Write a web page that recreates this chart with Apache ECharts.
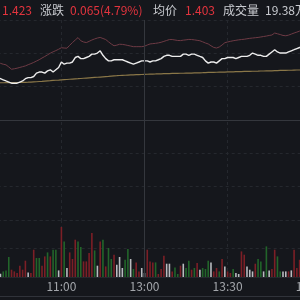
<!DOCTYPE html>
<html>
<head>
<meta charset="utf-8">
<style>
  html, body { margin: 0; padding: 0; background: #15171c; }
  #chart { width: 300px; height: 300px; }
</style>
<script src="https://cdn.jsdelivr.net/npm/echarts@6/dist/echarts.min.js"></script>
</head>
<body>
<div id="chart"></div>
<script>
  // 行情头部数据
  var lastPrice = '1.423';
  var change = '0.065(4.79%)';
  var avgPriceText = '1.403';
  var volumeText = '19.38万';
  var prevClose = 1.358;

  // 时间轴：10:37-11:30, 13:01-14:00
  var times = [];
  function pushRange(h1, m1, h2, m2) {
    var t = h1 * 60 + m1;
    for (; t <= h2 * 60 + m2; t++) {
      var h = Math.floor(t / 60), m = t % 60;
      times.push(h + ':' + (m < 10 ? '0' + m : m));
    }
  }
  pushRange(10, 37, 11, 30);
  pushRange(13, 1, 14, 0);

  var labelTimes = ['11:00', '11:30', '13:30', '14:00'];
  var dashTimes = ['11:00', '13:30', '14:00'];

  // 价格
  var price = [
    1.396, 1.395, 1.394, 1.393, 1.392, 1.391, 1.391, 1.391, 1.392, 1.393,
    1.395, 1.396, 1.396, 1.397, 1.400, 1.401, 1.401, 1.400, 1.402, 1.403,
    1.401, 1.403, 1.405, 1.410, 1.408, 1.409, 1.409, 1.410, 1.414, 1.415,
    1.413, 1.413, 1.414, 1.415, 1.417, 1.417, 1.418, 1.420, 1.416, 1.413,
    1.411, 1.411, 1.412, 1.412, 1.412, 1.412, 1.411, 1.410, 1.409, 1.408,
    1.409, 1.410, 1.411, 1.411, 1.411, 1.410, 1.411, 1.411, 1.412, 1.413,
    1.415, 1.416, 1.416, 1.415, 1.415, 1.415, 1.415, 1.417, 1.417, 1.416,
    1.417, 1.417, 1.416, 1.415, 1.414, 1.411, 1.409, 1.410, 1.410, 1.409,
    1.411, 1.413, 1.413, 1.414, 1.414, 1.414, 1.413, 1.414, 1.415, 1.415,
    1.415, 1.416, 1.418, 1.417, 1.416, 1.416, 1.415, 1.415, 1.417, 1.419,
    1.421, 1.419, 1.418, 1.418, 1.418, 1.419, 1.420, 1.421, 1.422, 1.423,
    1.424
  ];

  // 均价
  var avgPrice = [
    1.3914, 1.3914, 1.3914, 1.3915, 1.3915, 1.3915, 1.3915, 1.3916, 1.3916,
    1.3917, 1.3918, 1.3919, 1.3920, 1.3922, 1.3923, 1.3925,
    1.3927, 1.3929, 1.3931, 1.3933, 1.3935, 1.3936, 1.3938,
    1.3940, 1.3942, 1.3943, 1.3945, 1.3947, 1.3949, 1.3950, 1.3952,
    1.3954, 1.3956, 1.3958, 1.3960, 1.3962, 1.3963, 1.3965,
    1.3967, 1.3969, 1.3971, 1.3973, 1.3975, 1.3977, 1.3979,
    1.3980, 1.3981, 1.3983, 1.3984, 1.3985, 1.3986, 1.3987, 1.3988, 1.3989, 1.3990, 1.3992,
    1.3992, 1.3993, 1.3994, 1.3994, 1.3995, 1.3996, 1.3996, 1.3997, 1.3998, 1.3998, 1.3999, 1.3999, 1.4000, 1.4000, 1.4001,
    1.4002, 1.4003, 1.4003, 1.4004, 1.4005, 1.4006, 1.4006, 1.4007, 1.4008, 1.4009, 1.4009, 1.4010,
    1.4011, 1.4011, 1.4012, 1.4013, 1.4013, 1.4014, 1.4015, 1.4015, 1.4016, 1.4017, 1.4017, 1.4018, 1.4019,
    1.4019, 1.4020, 1.4021, 1.4021, 1.4022, 1.4023, 1.4024, 1.4024, 1.4025, 1.4026, 1.4026, 1.4027, 1.4028, 1.4028, 1.4029
  ];

  // 参考指数涨跌幅(%)
  var indexPct = [
    3.78, 3.74, 3.68, 3.64, 3.50, 3.35, 3.38, 3.42, 3.47, 3.52,
    3.57, 3.65, 3.72, 3.80, 3.89, 3.98, 4.09, 4.19, 4.30, 4.41,
    4.50, 4.58, 4.67, 4.77, 4.75, 4.74, 4.93, 5.11, 5.28, 5.44,
    5.23, 5.15, 5.11, 5.19, 5.28, 5.35, 5.41, 5.45, 5.38, 5.31,
    5.16, 5.02, 4.90, 4.94, 5.00, 4.99, 4.96, 4.92, 4.88, 4.84,
    4.84, 4.84, 4.84, 4.87, 4.95, 5.02, 5.04, 5.06, 5.09, 5.13,
    5.19, 5.25, 5.31, 5.31, 5.28, 5.25, 5.24, 5.27, 5.29, 5.32,
    5.31, 5.29, 5.26, 5.23, 5.16, 5.08, 5.02, 4.90, 4.79, 4.75,
    4.82, 4.95, 5.10, 5.15, 5.19, 5.23, 5.26, 5.29, 5.31, 5.33,
    5.36, 5.39, 5.41, 5.43, 5.45, 5.48, 5.51, 5.54, 5.58, 5.61,
    5.74, 5.69, 5.64, 5.58, 5.56, 5.60, 5.67, 5.74, 5.80, 5.87,
    5.91
  ];

  // 成交量(手) 与 涨跌方向 1涨 -1跌 0平
  var volume = [
    300, 330, 560, 660, 2000, 730, 560, 400, 1130, 730,
    1630, 460, 400, 2730, 1900, 1900, 1130, 2060, 2460, 2060,
    2730, 2730, 660, 5000, 3560, 900, 2460, 1800, 3730, 3560,
    3000, 1560, 1560, 2400, 4400, 2660, 1130, 3560, 3730, 1060,
    2900, 1800, 2230, 1230, 2000, 900, 1730, 2800, 1800, 800,
    1460, 560, 900, 400, 2730, 1560, 1460, 1460, 300, 800,
    2130, 1330, 1330, 560, 960, 300, 1130, 1330, 900, 1630,
    730, 900, 1400, 730, 900, 800, 1630, 1460, 560, 900,
    560, 1800, 1060, 560, 400, 800, 400, 300, 2560, 2230,
    1060, 730, 560, 1330, 1800, 1560, 560, 3060, 660, 800,
    2730, 2060, 560, 560, 560, 560, 660, 2730, 900, 1730,
    1000
  ];
  var volDir = [
    0, 0, -1, -1, -1, 1, 1, 1, 1, 1,
    1, 0, 1, 1, -1, -1, 1, 1, -1, 1,
    -1, -1, 0, 1, -1, 0, 1, 1, 1, -1,
    -1, 1, 1, 1, 1, -1, 0, 1, -1, 1,
    -1, -1, 1, 0, 0, 0, -1, -1, 0, -1,
    1, 1, 0, 0, 1, 1, 1, -1, 1, 1,
    1, 0, 0, 1, -1, -1, 1, 0, -1, -1,
    1, -1, 1, 0, -1, -1, -1, 0, 1, 1,
    -1, 1, 0, 1, 1, -1, 0, 0, 1, 1,
    0, 0, 0, 1, -1, -1, 0, -1, 0, 1,
    1, -1, -1, 0, 0, 1, 0, 1, 1, 1,
    1
  ];

  var upColor = '#7c1f26', downColor = '#22652a', flatColor = '#b9bbbf';
  var pricePct = price.map(function (p) { return +((p / prevClose - 1) * 100).toFixed(3); });
  var avgPct = avgPrice.map(function (p) { return +((p / prevClose - 1) * 100).toFixed(3); });
  var volData = volume.map(function (v, i) {
    return { value: v, itemStyle: { color: volDir[i] > 0 ? upColor : (volDir[i] < 0 ? downColor : flatColor) } };
  });

  var gridLeft = -2.31, gridRight = -10.7;
  var dashStyle = { color: '#25282e', type: [3, 3], width: 1 };

  var myChart = echarts.init(document.getElementById('chart'));
  var option = {
    backgroundColor: '#15171c',
    animation: false,
    graphic: [
      { type: 'text', x: 2, y: 10.5, style: { text: lastPrice, fill: '#e3343e', font: '12px "Noto Sans CJK SC"', verticalAlign: 'middle' } },
      { type: 'text', x: 40, y: 10.5, style: { text: '涨跌', fill: '#c9cbd0', font: '12px "Noto Sans CJK SC"', verticalAlign: 'middle' } },
      { type: 'text', x: 70, y: 10.5, style: { text: change, fill: '#e3343e', font: '12px "Noto Sans CJK SC"', verticalAlign: 'middle' } },
      { type: 'text', x: 153, y: 10.5, style: { text: '均价', fill: '#c9cbd0', font: '12px "Noto Sans CJK SC"', verticalAlign: 'middle' } },
      { type: 'text', x: 185, y: 10.5, style: { text: avgPriceText, fill: '#e3343e', font: '12px "Noto Sans CJK SC"', verticalAlign: 'middle' } },
      { type: 'text', x: 223, y: 10.5, style: { text: '成交量', fill: '#c9cbd0', font: '12px "Noto Sans CJK SC"', verticalAlign: 'middle' } },
      { type: 'text', x: 265, y: 10.5, style: { text: volumeText, fill: '#c9cbd0', font: '12px "Noto Sans CJK SC"', verticalAlign: 'middle' } },
      { type: 'line', shape: { x1: 0, y1: 296.5, x2: 300, y2: 296.5 }, style: { stroke: '#30333a', lineWidth: 1 } }
    ],
    grid: [
      { left: gridLeft, right: gridRight, top: 20, height: 200, outerBoundsMode: 'none' },
      { left: gridLeft, right: gridRight, top: 220, height: 57, outerBoundsMode: 'none' }
    ],
    xAxis: [
      {
        gridIndex: 0, type: 'category', data: times, boundaryGap: false,
        axisLine: { show: true, lineStyle: { color: '#33363c' } },
        axisTick: { show: false }, axisLabel: { show: false },
        splitLine: { show: true, interval: function (i, v) { return dashTimes.indexOf(v) >= 0; }, lineStyle: dashStyle }
      },
      {
        gridIndex: 1, type: 'category', data: times, boundaryGap: false,
        axisLine: { show: true, lineStyle: { color: '#25282e' } },
        axisTick: { show: false },
        axisLabel: {
          show: true, color: '#a3a6ab', fontSize: 12, fontFamily: 'Noto Sans CJK SC', margin: 3,
          interval: function (i, v) { return labelTimes.indexOf(v) >= 0; },
          formatter: function (v) { return v === '11:30' ? '13:00' : v; }
        },
        splitLine: { show: true, interval: function (i, v) { return dashTimes.indexOf(v) >= 0; }, lineStyle: dashStyle }
      }
    ],
    yAxis: [
      {
        gridIndex: 0, type: 'value', min: -6.6, max: 6.6, interval: 2.2,
        axisLine: { show: false }, axisTick: { show: false }, axisLabel: { show: false },
        splitLine: { lineStyle: dashStyle }
      },
      {
        gridIndex: 1, type: 'value', min: 0, max: 5700, interval: 2850,
        axisLine: { show: false }, axisTick: { show: false }, axisLabel: { show: false },
        splitLine: { lineStyle: dashStyle }
      }
    ],
    series: [
      {
        name: '指数', type: 'line', xAxisIndex: 0, yAxisIndex: 0, data: indexPct,
        showSymbol: false, lineStyle: { color: '#6e3b45', width: 1 },
        markLine: {
          silent: true, symbol: 'none', label: { show: false },
          lineStyle: { color: '#34373d', type: 'solid', width: 1 },
          data: [{ yAxis: 0 }, { xAxis: 53 }]
        }
      },
      {
        name: '均价', type: 'line', xAxisIndex: 0, yAxisIndex: 0, data: avgPct,
        showSymbol: false, lineStyle: { color: '#8a7748', width: 1.2 }
      },
      {
        name: '价格', type: 'line', xAxisIndex: 0, yAxisIndex: 0, data: pricePct,
        showSymbol: false, lineStyle: { color: '#ececec', width: 1.4 }
      },
      {
        name: '成交量', type: 'bar', xAxisIndex: 1, yAxisIndex: 1, data: volData,
        barWidth: 1.6,
        markLine: {
          silent: true, symbol: 'none', label: { show: false },
          lineStyle: { color: '#34373d', type: 'solid', width: 1 },
          data: [{ xAxis: 53 }]
        }
      }
    ]
  };
  myChart.setOption(option);
</script>
</body>
</html>
